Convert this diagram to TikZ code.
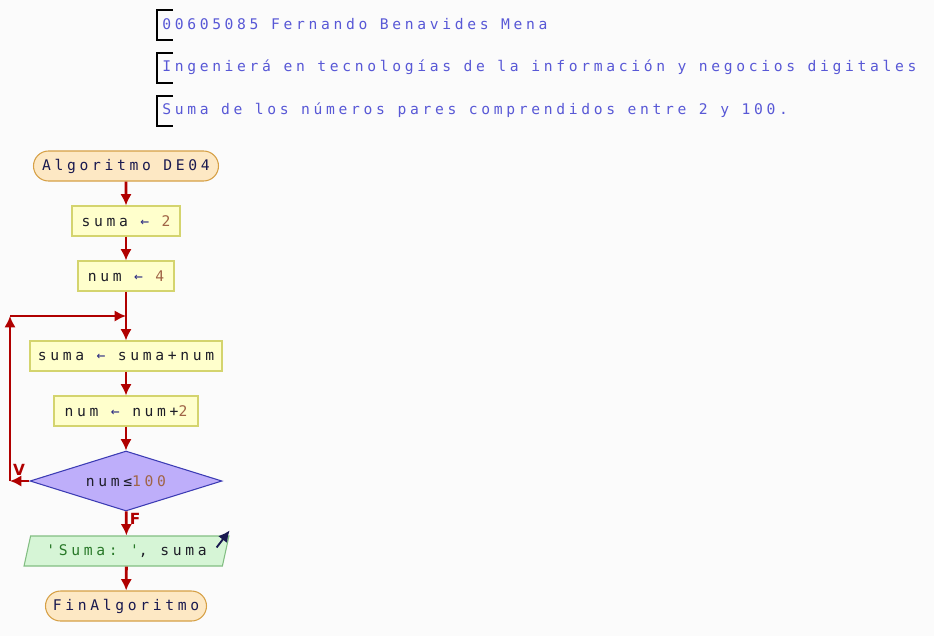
\documentclass[tikz,border=0pt]{standalone}
\usepackage{fontspec}
\setmonofont[LetterSpace=25]{DejaVu Sans Mono}
\newfontfamily\tagfont{DejaVu Sans}
\usetikzlibrary{shapes.geometric,shapes.misc,arrows.meta}

\begin{document}
\begin{tikzpicture}[x=0.75pt, y=-0.75pt, >={Latex[length=8.5pt,width=8.5pt]},
  font=\ttfamily\fontsize{11}{13}\selectfont,
  proc/.style={rectangle, draw=procb, fill=procf, line width=0.8pt, minimum height=22.5pt, inner sep=0pt, text=txt},
  term/.style={rounded rectangle, draw=termb, fill=termf, line width=0.8pt, minimum height=22.5pt, inner sep=0pt, text=navy},
  cond/.style={diamond, draw=condb, fill=condf, line width=0.8pt, aspect=3.2, minimum width=144pt, minimum height=45pt, inner sep=0pt, text=txt},
  io/.style={trapezium, trapezium left angle=67, trapezium right angle=113, trapezium stretches=true, draw=iob, fill=iof, line width=0.8pt, minimum width=153.75pt, minimum height=22.5pt, inner sep=0pt, text=txt},
  flow/.style={->, draw=flowc, line width=2.1pt},
  tag/.style={text=flowc, font=\tagfont\bfseries\fontsize{11.5}{13}\selectfont},
  cmt/.style={anchor=west, inner sep=0pt, text=cmtc}]

\definecolor{bgc}{RGB}{251,251,251}
\definecolor{cmtc}{RGB}{88,88,214}
\definecolor{txt}{RGB}{30,30,40}
\definecolor{navy}{RGB}{25,25,80}
\definecolor{arrc}{RGB}{45,45,130}
\definecolor{numc}{RGB}{160,100,70}
\definecolor{strc}{RGB}{40,120,40}
\definecolor{procf}{RGB}{255,255,204}
\definecolor{procb}{RGB}{212,212,110}
\definecolor{termf}{RGB}{253,232,196}
\definecolor{termb}{RGB}{214,160,70}
\definecolor{condf}{RGB}{190,174,250}
\definecolor{condb}{RGB}{60,60,180}
\definecolor{iof}{RGB}{214,245,214}
\definecolor{iob}{RGB}{130,190,130}
\definecolor{flowc}{RGB}{176,0,0}

\fill[bgc] (0,0) rectangle (934,636);
\useasboundingbox (0,0) rectangle (934,636);

% comments at the top
\node[cmt] (cmta) at (162,24) {00605085 Fernando Benavides Mena};
\node[cmt] (cmtb) at (162,67) {Ingenierá en tecnologías de la información y negocios digitales};
\node[cmt] (cmtc) at (162,110) {Suma de los números pares comprendidos entre 2 y 100.};
\draw[line width=0.8pt] (173,10)--(157,10)--(157,40)--(173,40);
\draw[line width=0.8pt] (173,53)--(157,53)--(157,83)--(173,83);
\draw[line width=0.8pt] (173,96)--(157,96)--(157,126)--(173,126);

% flowchart
\node[term, minimum width=138.75pt] (start) at (126,166) {Algoritmo DE04};
\node[proc, minimum width=81pt] (suma0) at (126,221) {suma {\color{arrc}←} {\color{numc}2}};
\node[proc, minimum width=72pt] (num0) at (126,276) {num {\color{arrc}←} {\color{numc}4}};
\node[proc, minimum width=144pt] (sumaup) at (126,356) {suma {\color{arrc}←} suma+num};
\node[proc, minimum width=108pt] (numup) at (126,411) {num {\color{arrc}←} num+{\color{numc}2}};
\node[cond] (test) at (126,481) {num≤{\color{numc}100}};
\node[io] (out) at (126.5,551) {{\color{strc}'Suma: '}, suma};
\node[term, minimum width=120.75pt] (stop) at (126,606) {FinAlgoritmo};

\coordinate (loopa) at (10,481);
\coordinate (loopb) at (10,316);
\coordinate (loopc) at (126,316);

\draw[flow] (start) -- (suma0);
\draw[flow] (suma0) -- (num0);
\draw[flow] (num0) -- (sumaup);
\draw[flow] (sumaup) -- (numup);
\draw[flow] (numup) -- (test);
\draw[flow] (test) -- (out);
\draw[flow] (out) -- (stop);
\draw[flow] (test.west) -- (loopa);
\draw[flow] (loopa) -- (loopb);
\draw[flow] (loopb) -- (loopc);

\node[tag] (tagv) at (19,470) {V};
\node[tag] (tagf) at (135,519) {F};

\draw[->, navy, line width=1.4pt] ([xshift=-9.75pt,yshift=-9pt]out.top right corner) -- ([yshift=3.75pt]out.top right corner);

\end{tikzpicture}
\end{document}
